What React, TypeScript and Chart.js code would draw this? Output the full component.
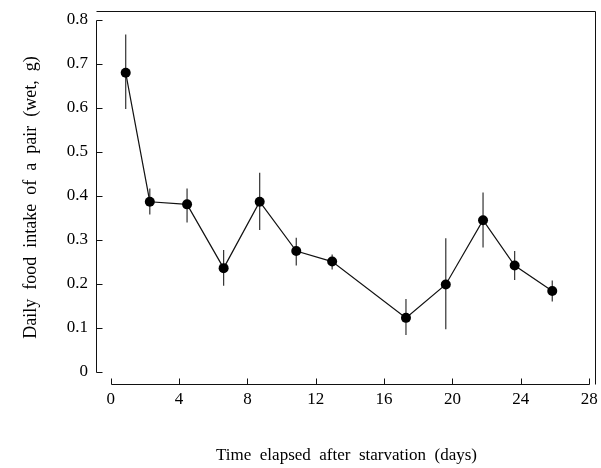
import React, { useEffect, useRef } from "react";
import { Chart, registerables } from "chart.js";

Chart.register(...registerables);

// Data
const days = [0.88, 2.29, 4.47, 6.61, 8.72, 10.86, 12.96, 17.28, 19.61, 21.79, 23.64, 25.84];
const intake = [0.68, 0.387, 0.381, 0.236, 0.387, 0.275, 0.251, 0.123, 0.199, 0.345, 0.242, 0.184];
const errHigh = [0.767, 0.417, 0.417, 0.277, 0.453, 0.305, 0.267, 0.166, 0.304, 0.408, 0.275, 0.208];
const errLow = [0.598, 0.358, 0.34, 0.196, 0.323, 0.242, 0.233, 0.084, 0.097, 0.283, 0.209, 0.16];
const xTicks = [0, 4, 8, 12, 16, 20, 24, 28];
const yTicks = [0, 0.1, 0.2, 0.3, 0.4, 0.5, 0.6, 0.7, 0.8];
const xTitle = "Time  elapsed  after  starvation  (days)";
const yTitle = "Daily  food  intake  of  a  pair  (wet,  g)";

const FONT = "'Liberation Serif', 'Times New Roman', serif";

const framePlugin = {
  id: "frameAxes",
  beforeDatasetsDraw(chart: any) {
    const { ctx, chartArea, scales } = chart;
    const xs = scales.x;
    const ys = scales.y;
    ctx.save();
    ctx.strokeStyle = "#111";
    ctx.lineWidth = 1;
    const left = Math.round(chartArea.left) - 0.5;
    const bottom = Math.round(chartArea.bottom) + 0.5;
    const top = Math.round(chartArea.top) + 0.5;
    const right = Math.round(chartArea.right) - 0.5;
    // frame top and right
    ctx.beginPath();
    ctx.moveTo(left, top);
    ctx.lineTo(right, top);
    ctx.lineTo(right, bottom);
    ctx.stroke();
    // y axis
    const y0 = Math.round(ys.getPixelForValue(yTicks[0])) + 0.5;
    const y1 = Math.round(ys.getPixelForValue(yTicks[yTicks.length - 1])) + 0.5;
    ctx.beginPath();
    ctx.moveTo(left, y0);
    ctx.lineTo(left, y1);
    yTicks.forEach((v) => {
      const py = Math.round(ys.getPixelForValue(v)) + 0.5;
      ctx.moveTo(left, py);
      ctx.lineTo(left + 6, py);
    });
    ctx.stroke();
    // x axis
    const x0 = Math.round(xs.getPixelForValue(xTicks[0])) + 0.5;
    const x1 = Math.round(xs.getPixelForValue(xTicks[xTicks.length - 1])) + 0.5;
    ctx.beginPath();
    ctx.moveTo(x0, bottom);
    ctx.lineTo(x1, bottom);
    xTicks.forEach((v) => {
      const px = Math.round(xs.getPixelForValue(v)) + 0.5;
      ctx.moveTo(px, bottom);
      ctx.lineTo(px, bottom - 6);
    });
    ctx.stroke();
    // error bars
    ctx.strokeStyle = "#333";
    ctx.lineWidth = 1.2;
    ctx.beginPath();
    days.forEach((d, i) => {
      const px = xs.getPixelForValue(d);
      ctx.moveTo(px, ys.getPixelForValue(errLow[i]));
      ctx.lineTo(px, ys.getPixelForValue(errHigh[i]));
    });
    ctx.stroke();
    ctx.restore();
  },
};

export default function App() {
  const ref = useRef<HTMLCanvasElement | null>(null);

  useEffect(() => {
    if (!ref.current) return;
    const chart = new Chart(ref.current, {
      type: "line",
      data: {
        datasets: [
          {
            data: days.map((d, i) => ({ x: d, y: intake[i] })),
            borderColor: "#111",
            borderWidth: 1.2,
            backgroundColor: "#000",
            pointBackgroundColor: "#000",
            pointBorderColor: "#000",
            pointRadius: 5,
            pointBorderWidth: 0,
            tension: 0,
          },
        ],
      },
      options: {
        responsive: false,
        animation: false,
        layout: { padding: { top: 11, right: 4, left: 0, bottom: 0 } },
        plugins: { legend: { display: false }, tooltip: { enabled: false } },
        scales: {
          x: {
            type: "linear",
            min: -0.8,
            max: 28.4,
            afterBuildTicks: (s: any) => {
              s.ticks = xTicks.map((v) => ({ value: v }));
            },
            afterFit: (s: any) => {
              s.height = 84;
              s.paddingLeft = 0;
              s.paddingRight = 0;
            },
            grid: { display: false, drawTicks: false },
            border: { display: false },
            ticks: {
              color: "#000",
              font: { family: FONT, size: 17 },
              padding: 5,
              maxRotation: 0,
              autoSkip: false,
              callback: (v: any) => String(v),
            },
            title: {
              display: true,
              text: xTitle,
              color: "#000",
              font: { family: FONT, size: 17 },
              padding: { top: 0, bottom: 2 },
            },
          },
          y: {
            type: "linear",
            min: -0.0273,
            max: 0.8205,
            afterBuildTicks: (s: any) => {
              s.ticks = yTicks.map((v) => ({ value: v }));
            },
            afterFit: (s: any) => {
              s.width = 97;
              s.paddingTop = 0;
              s.paddingBottom = 0;
            },
            grid: { display: false, drawTicks: false },
            border: { display: false },
            ticks: {
              color: "#000",
              font: { family: FONT, size: 17 },
              padding: 9,
              autoSkip: false,
              callback: (v: any) => (Number(v) === 0 ? "0" : Number(v).toFixed(1)),
            },
            title: {
              display: true,
              text: yTitle,
              color: "#000",
              font: { family: FONT, size: 18 },
              padding: { top: 20, bottom: 0 },
            },
          },
        },
      },
      plugins: [framePlugin],
    });
    return () => chart.destroy();
  }, []);

  return (
    <div style={{ position: "absolute", left: 0, top: 0, width: 601, height: 468, background: "#fff" }}>
      <canvas ref={ref} width={601} height={468} style={{ display: "block" }} />
    </div>
  );
}
